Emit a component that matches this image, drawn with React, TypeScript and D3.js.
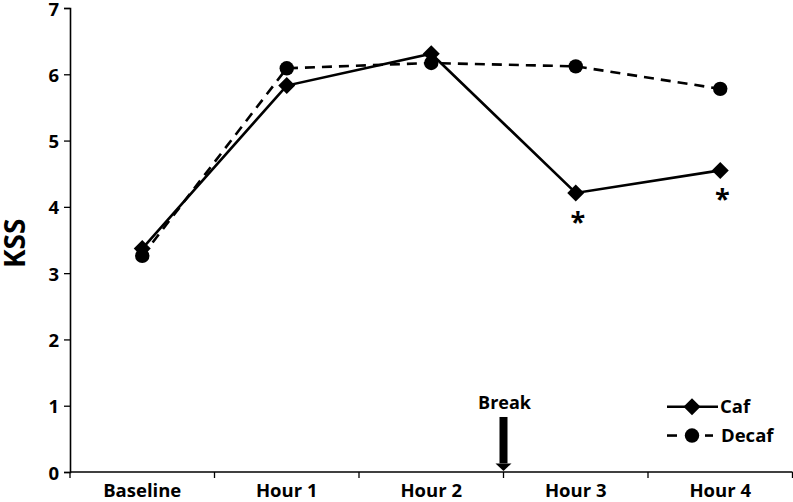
import React, { useEffect, useRef } from "react";
import * as d3 from "d3";

const categories = ["Baseline", "Hour 1", "Hour 2", "Hour 3", "Hour 4"];
const cafValues = [3.37, 5.83, 6.31, 4.21, 4.55];
const decafValues = [3.26, 6.09, 6.17, 6.12, 5.78];
const yTicks = [0, 1, 2, 3, 4, 5, 6, 7];
const significant = ["Hour 3", "Hour 4"];
const breakAfter = "Hour 2";

const FONT = "'Open Sans', 'DejaVu Sans', sans-serif";

export default function App() {
  const svgRef = useRef<SVGSVGElement>(null);

  useEffect(() => {
    document.body.style.margin = "0";
    const width = 793;
    const height = 502;
    const marginLeft = 70;
    const marginRight = 0.5;
    const marginTop = 8;
    const marginBottom = 30;

    const svg = d3.select(svgRef.current);
    svg.selectAll("*").remove();

    const x = d3
      .scaleBand()
      .domain(categories)
      .range([marginLeft, width - marginRight]);

    const y = d3
      .scaleLinear()
      .domain([0, 7])
      .range([height - marginBottom, marginTop]);

    const cx = (c) => (x(c) ?? 0) + x.bandwidth() / 2;

    // y axis
    const yAxis = svg
      .append("g")
      .attr("transform", `translate(${marginLeft},0)`)
      .call(d3.axisLeft(y).tickValues(yTicks).tickFormat(d3.format("d")).tickSize(6).tickPadding(5));
    yAxis.select(".domain").attr("stroke", "#000").attr("stroke-width", 1.6);
    yAxis.selectAll(".tick line").attr("stroke-width", 1.3);
    yAxis
      .selectAll(".tick text")
      .attr("font-family", FONT)
      .attr("font-weight", 700)
      .attr("font-size", 18.5)
      .attr("dy", "0.38em")
      .attr("fill", "#000");

    // x axis with ticks at band edges
    const xAxisG = svg
      .append("g")
      .attr("transform", `translate(0,${y(0)})`);
    xAxisG
      .append("line")
      .attr("x1", marginLeft)
      .attr("x2", width - marginRight)
      .attr("stroke", "#000")
      .attr("stroke-width", 1.6);
    const edges = categories.map((c) => x(c) ?? 0).concat([(x(categories[categories.length - 1]) ?? 0) + x.bandwidth()]);
    xAxisG
      .selectAll("line.edge")
      .data(edges)
      .join("line")
      .attr("class", "edge")
      .attr("x1", (d) => d)
      .attr("x2", (d) => d)
      .attr("y1", 0)
      .attr("y2", 6)
      .attr("stroke", "#000")
      .attr("stroke-width", 1.3);
    xAxisG
      .selectAll("text")
      .data(categories)
      .join("text")
      .attr("x", (d) => cx(d))
      .attr("y", 25)
      .attr("text-anchor", "middle")
      .attr("font-family", FONT)
      .attr("font-weight", 700)
      .attr("font-size", 18.5)
      .text((d) => d);

    // y label
    svg
      .append("text")
      .attr("transform", `translate(25,${y(3.45)}) rotate(-90)`)
      .attr("text-anchor", "middle")
      .attr("font-family", FONT)
      .attr("font-weight", 700)
      .attr("font-size", 28)
      .text("KSS");

    const line = d3
      .line<number>()
      .x((_, i) => cx(categories[i]))
      .y((d) => y(d));

    // decaf dashed
    svg
      .append("path")
      .datum(decafValues)
      .attr("d", line)
      .attr("fill", "none")
      .attr("stroke", "#000")
      .attr("stroke-width", 2.6)
      .attr("stroke-dasharray", "10,7");

    // caf solid
    svg
      .append("path")
      .datum(cafValues)
      .attr("d", line)
      .attr("fill", "none")
      .attr("stroke", "#000")
      .attr("stroke-width", 2.6);

    const diamond = "M0,-8.5L8.5,0L0,8.5L-8.5,0Z";

    svg
      .selectAll("circle.decaf")
      .data(decafValues)
      .join("circle")
      .attr("class", "decaf")
      .attr("cx", (_, i) => cx(categories[i]))
      .attr("cy", (d) => y(d))
      .attr("r", 7.2)
      .attr("fill", "#000");

    svg
      .selectAll("path.caf")
      .data(cafValues)
      .join("path")
      .attr("class", "caf")
      .attr("d", diamond)
      .attr("transform", (d, i) => `translate(${cx(categories[i])},${y(d)})`)
      .attr("fill", "#000");

    // significance asterisks
    svg
      .selectAll("text.sig")
      .data(significant)
      .join("text")
      .attr("class", "sig")
      .attr("x", (d) => cx(d) + 2)
      .attr("y", (d) => y(cafValues[categories.indexOf(d)]) + 38)
      .attr("text-anchor", "middle")
      .attr("font-family", FONT)
      .attr("font-weight", 700)
      .attr("font-size", 27)
      .text("*");

    // break arrow
    const bx = (x(breakAfter) ?? 0) + x.bandwidth();
    svg
      .append("text")
      .attr("x", bx + 1)
      .attr("y", y(1) + 3)
      .attr("text-anchor", "middle")
      .attr("font-family", FONT)
      .attr("font-weight", 700)
      .attr("font-size", 18)
      .text("Break");
    svg
      .append("rect")
      .attr("x", bx - 4)
      .attr("y", y(0.83))
      .attr("width", 8)
      .attr("height", y(0.13) - y(0.83))
      .attr("fill", "#000");
    svg
      .append("path")
      .attr("d", `M${bx - 8},${y(0.13)}L${bx + 8},${y(0.13)}L${bx},${y(0) - 1}Z`)
      .attr("fill", "#000");

    // legend
    const legend = svg.append("g").attr("transform", "translate(667,0)");
    const rows = [
      { label: "Caf", yPos: y(1) + 1, dashed: false },
      { label: "Decaf", yPos: y(0.55), dashed: true },
    ];
    rows.forEach((r) => {
      const g = legend.append("g").attr("transform", `translate(0,${r.yPos})`);
      if (r.dashed) {
        g.append("line").attr("x1", 0).attr("x2", 10).attr("stroke", "#000").attr("stroke-width", 2.6);
        g.append("line").attr("x1", 38).attr("x2", 46).attr("stroke", "#000").attr("stroke-width", 2.6);
        g.append("circle").attr("cx", 25).attr("r", 7.2).attr("fill", "#000");
      } else {
        g.append("line").attr("x1", 0).attr("x2", 51).attr("stroke", "#000").attr("stroke-width", 2.6);
        g.append("path").attr("d", diamond).attr("transform", "translate(25,0)").attr("fill", "#000");
      }
      g.append("text")
        .attr("x", r.dashed ? 54 : 53)
        .attr("y", 6.5)
        .attr("font-family", FONT)
        .attr("font-weight", 700)
        .attr("font-size", 18.5)
        .text(r.label);
    });
  }, []);

  return <svg ref={svgRef} width={793} height={502} style={{ display: "block" }} />;
}
